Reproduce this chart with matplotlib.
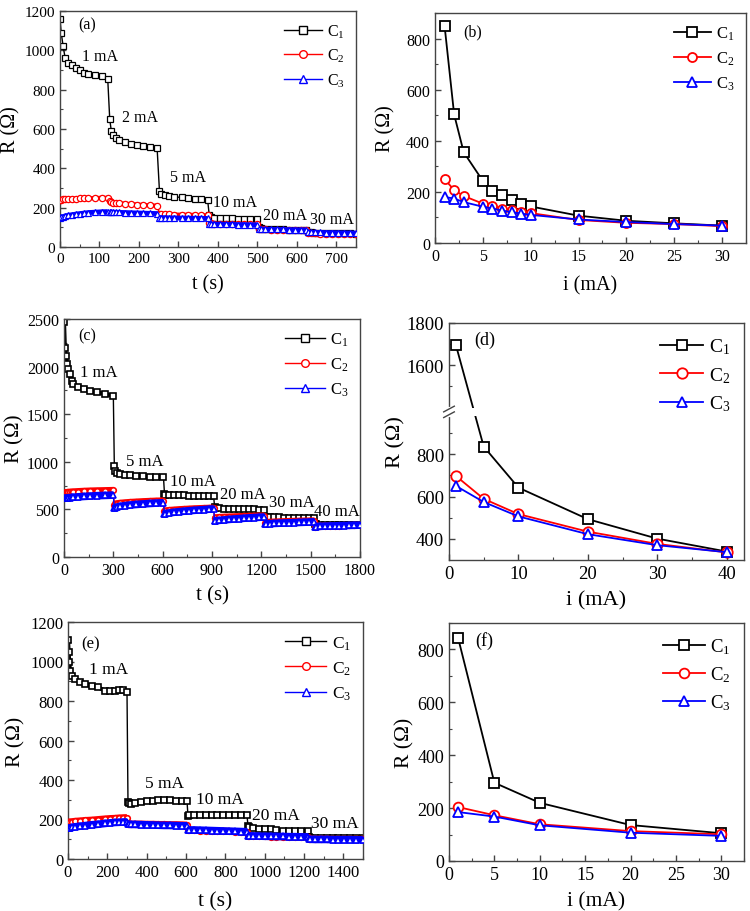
import numpy as np
import matplotlib
matplotlib.use("Agg")
import matplotlib.pyplot as plt
from matplotlib.lines import Line2D
from matplotlib.ticker import MultipleLocator, FixedLocator, FormatStrFormatter, NullFormatter

plt.rcParams['font.family'] = ['Liberation Serif', 'DejaVu Serif']
plt.rcParams['mathtext.fontset'] = 'custom'
plt.rcParams['mathtext.rm'] = 'Liberation Serif'
plt.rcParams['mathtext.it'] = 'Liberation Serif:italic'

# ---------------- data ----------------
# (a) resistance vs time, currents 1,2,5,10,20,30 mA
a_switch = [0, 124, 250, 376, 502, 627]
t_a = [0, 3, 8, 13, 20, 30, 40, 51, 60, 72, 89, 106, 121,
       126, 130, 135, 142, 150, 165, 180, 195, 211, 228, 246,
       252, 257, 265, 275, 290, 308, 325, 342, 358, 374,
       378, 383, 390, 405, 420, 435, 450, 465, 482, 499,
       504, 510, 520, 535, 550, 565, 580, 595, 610, 624,
       629, 635, 645, 660, 675, 690, 705, 720, 735, 749]
a_c1 = [1160, 1090, 1020, 962, 938, 924, 908, 900, 886, 878, 873, 868, 852,
        650, 590, 570, 556, 545, 532, 526, 520, 515, 510, 505,
        285, 268, 262, 258, 255, 252, 248, 245, 243, 240,
        165, 152, 148, 146, 145, 145, 144, 143, 143, 142,
        100, 95, 93, 91, 90, 89, 88, 87, 87, 86,
        76, 74, 73, 72, 71, 70, 70, 69, 69, 68]
a_c2 = [240, 241, 242, 243, 244, 245, 246, 247, 247, 248, 249, 250, 250,
        235, 229, 226, 224, 222, 220, 218, 216, 214, 212, 210,
        170, 168, 167, 166, 165, 164, 164, 163, 162, 161,
        122, 120, 119, 118, 118, 117, 117, 116, 116, 115,
        92, 90, 89, 88, 88, 87, 87, 86, 86, 85,
        72, 70, 69, 68, 68, 67, 67, 66, 66, 65]
a_c3 = [150, 152, 155, 158, 161, 164, 167, 170, 172, 175, 177, 179, 180,
        178, 177, 177, 176, 176, 175, 174, 173, 172, 171, 170,
        150, 149, 149, 148, 148, 147, 147, 146, 146, 145,
        118, 117, 116, 116, 115, 115, 114, 114, 113, 113,
        93, 91, 90, 90, 89, 89, 88, 88, 87, 87,
        76, 75, 74, 74, 73, 73, 72, 72, 71, 71]
a_labels = ['1 mA', '2 mA', '5 mA', '10 mA', '20 mA', '30 mA']
a_label_t = [101, 203, 325, 443, 570, 689]
a_label_r = [971, 661, 356, 229, 163, 142]

# (b) resistance vs current
i_b = [1, 2, 3, 5, 6, 7, 8, 9, 10, 15, 20, 25, 30]
b_c1 = [850, 503, 355, 243, 205, 187, 169, 153, 143, 107, 87, 77, 68]
b_c2 = [250, 207, 184, 154, 145, 134, 128, 122, 117, 90, 79, 74, 66]
b_c3 = [180, 174, 160, 142, 135, 127, 121, 115, 110, 92, 82, 74, 68]

# (c) resistance vs time, currents 1,5,10,20,30,40 mA
c_switch = [0, 304, 609, 914, 1220, 1525]
t_c = [0, 5, 10, 20, 25, 36, 47, 57, 87, 120, 160, 200, 250, 300,
       306, 310, 320, 340, 370, 400, 440, 480, 520, 560, 605,
       611, 615, 640, 670, 700, 730, 760, 790, 820, 850, 880, 910,
       916, 920, 945, 975, 1005, 1035, 1065, 1095, 1125, 1155, 1185, 1218,
       1223, 1228, 1250, 1280, 1310, 1340, 1370, 1400, 1430, 1460, 1490, 1523,
       1528, 1533, 1555, 1585, 1615, 1645, 1675, 1705, 1735, 1765, 1799]
c_c1 = [2470, 2200, 2114, 2026, 1974, 1921, 1852, 1817, 1788, 1765, 1745, 1730, 1712, 1694,
        959, 906, 885, 870, 862, 857, 852, 848, 845, 842, 838,
        665, 655, 652, 650, 648, 647, 646, 645, 644, 643, 642, 640,
        520, 512, 510, 508, 506, 505, 503, 502, 501, 500, 498, 497,
        425, 420, 418, 416, 415, 413, 412, 411, 410, 409, 408, 406,
        345, 342, 341, 340, 340, 339, 339, 338, 338, 337, 337]
c_c2 = [675, 676, 677, 679, 680, 682, 684, 685, 688, 691, 694, 696, 698, 700,
        550, 555, 560, 565, 570, 574, 578, 582, 585, 588, 590,
        480, 485, 490, 494, 498, 501, 504, 507, 509, 511, 513, 515,
        410, 413, 416, 419, 421, 423, 425, 427, 428, 430, 431, 432,
        360, 363, 366, 368, 370, 372, 374, 375, 377, 378, 379, 380,
        320, 322, 324, 326, 327, 329, 330, 331, 332, 333, 335]
c_c3 = [615, 617, 619, 621, 622, 624, 626, 628, 632, 636, 640, 644, 647, 650,
        510, 517, 524, 532, 540, 546, 552, 557, 562, 566, 570,
        450, 456, 463, 470, 476, 481, 486, 490, 494, 498, 502, 505,
        375, 380, 385, 390, 395, 399, 403, 407, 411, 414, 417, 420,
        345, 347, 350, 353, 355, 357, 359, 361, 363, 365, 367, 370,
        318, 320, 322, 324, 326, 327, 329, 330, 332, 333, 335]
c_labels = ['1 mA', '5 mA', '10 mA', '20 mA', '30 mA', '40 mA']
c_label_t = [213, 493, 785, 1089, 1388, 1660]
c_label_r = [1943, 1008, 798, 662, 578, 483]

# (d) resistance vs current (broken axis)
i_d = [1, 5, 10, 20, 30, 40]
d_c1 = [1695, 836, 642, 493, 401, 340]
d_c2 = [697, 589, 517, 434, 376, 336]
d_c3 = [650, 574, 506, 422, 370, 337]

# (e) resistance vs time, currents 1,5,10,20,30 mA
e_switch = [0, 303, 608, 913, 1223]
t_e = [0, 3, 6, 10, 19, 36, 61, 86, 120, 154, 188, 215, 239, 260, 282, 300,
       305, 310, 320, 340, 370, 400, 430, 460, 490, 520, 550, 580, 605,
       610, 615, 640, 670, 700, 730, 760, 790, 820, 850, 880, 910,
       915, 920, 940, 970, 1000, 1030, 1060, 1095, 1125, 1155, 1185, 1220,
       1225, 1230, 1255, 1285, 1315, 1345, 1375, 1405, 1435, 1465, 1499]
e_c1 = [1110, 1050, 996, 953, 928, 911, 898, 886, 877, 869, 852, 852, 852, 855, 857, 847,
        290, 284, 280, 285, 290, 294, 296, 297, 297, 297, 296, 296, 295,
        219, 221, 222, 223, 224, 225, 225, 225, 224, 224, 223, 223,
        169, 160, 155, 153, 152, 150, 148, 143, 143, 142, 141, 140,
        110, 108, 107, 107, 106, 106, 106, 105, 105, 105, 105]
e_c2 = [185, 186, 187, 188, 189, 191, 193, 195, 197, 200, 203, 205, 206, 208, 209, 210,
        178, 178, 177, 177, 177, 176, 176, 175, 175, 174, 174, 173, 172,
        146, 145, 145, 144, 143, 142, 141, 141, 140, 139, 139, 138,
        116, 115, 115, 114, 114, 113, 113, 112, 112, 111, 111, 110,
        102, 102, 101, 101, 101, 100, 100, 100, 100, 100, 100]
e_c3 = [155, 156, 157, 158, 160, 163, 166, 169, 173, 176, 180, 183, 185, 186, 187, 188,
        176, 176, 175, 175, 174, 173, 172, 171, 170, 170, 169, 168, 168,
        148, 147, 147, 146, 145, 144, 143, 142, 141, 140, 139, 138,
        118, 117, 117, 116, 115, 115, 114, 114, 113, 113, 112, 112,
        100, 100, 99, 99, 99, 98, 98, 98, 98, 97, 97]
e_labels = ['1 mA', '5 mA', '10 mA', '20 mA', '30 mA']
e_label_t = [208, 493, 773, 1057, 1357]
e_label_r = [962, 385, 304, 223, 182]

# (f) resistance vs current
i_f = [1, 5, 10, 20, 30]
f_c1 = [844, 296, 220, 136, 105]
f_c2 = [204, 173, 139, 113, 101]
f_c3 = [185, 168, 135, 107, 95]

names = ['C$_1$', 'C$_2$', 'C$_3$']
colors = ['black', 'red', 'blue']
markers = ['s', 'o', '^']
spine_col = '#444444'

# ---------------- figure ----------------
fig = plt.figure(figsize=(7.5, 9.12), dpi=100)
W, H = 750, 912


def add_ax(x0, y0, x1, y1):
    return fig.add_axes([x0 / W, 1 - y1 / H, (x1 - x0) / W, (y1 - y0) / H])


def style(ax, tick_fs):
    for sp in ax.spines.values():
        sp.set_color(spine_col)
        sp.set_linewidth(1.0)
    ax.tick_params(which='both', direction='in', top=False, right=False,
                   labelsize=tick_fs, color=spine_col)
    ax.tick_params(which='major', length=4, width=1)
    ax.tick_params(which='minor', length=2.2, width=0.8)


def series_time(ax, t, ys, switch, bands, ms=4.0, mew=0.9):
    t = np.asarray(t)
    seg = np.searchsorted(switch, t, side='right') - 1
    for k, (y, c, m) in enumerate(zip(ys, colors, markers)):
        y = np.asarray(y)
        ax.plot(t, y, color=c, lw=1.0, zorder=2 + k)
        if bands[k] > 0:
            for s in np.unique(seg):
                sel = seg == s
                ax.plot(t[sel], y[sel], color=c, lw=bands[k],
                        solid_capstyle='butt', zorder=2 + k)
        ax.plot(t, y, ls='none', marker=m, ms=ms, mfc='white', mec=c,
                mew=mew, zorder=2 + k)


def series_current(ax, x, ys, ms=6.5):
    for y, c, m, n in zip(ys, colors, markers, names):
        ax.plot(x, y, color=c, lw=1.3, marker=m, ms=ms, mfc='white',
                mec=c, mew=1.3, label=n)


def legend(ax, fs):
    ax.legend(loc='upper right', frameon=False, fontsize=fs, handlelength=2.2,
              handletextpad=0.3, labelspacing=0.45, borderaxespad=0.3)


def time_legend(ax, fs):
    hs = [Line2D([], [], color=c, lw=1.0, marker=m, ms=5.5, mfc='white', mec=c, mew=1.0)
          for c, m in zip(colors, markers)]
    ax.legend(hs, names, loc='upper right', frameon=False, fontsize=fs,
              handlelength=2.4, handletextpad=0.3, labelspacing=0.45, borderaxespad=0.3)


# (a)
ax = add_ax(60, 12, 356, 248)
series_time(ax, t_a, [a_c1, a_c2, a_c3], a_switch, [0, 3.0, 3.5], ms=4.5)
ax.set_xlim(0, 750)
ax.set_ylim(0, 1200)
ax.xaxis.set_major_locator(MultipleLocator(100))
ax.xaxis.set_minor_locator(MultipleLocator(50))
ax.yaxis.set_major_locator(MultipleLocator(200))
ax.yaxis.set_minor_locator(MultipleLocator(100))
style(ax, 11)
for s, x, y in zip(a_labels, a_label_t, a_label_r):
    ax.text(x, y, s, ha='center', va='center', fontsize=11.5, zorder=10)
ax.text(0.09, 0.945, '(a)', transform=ax.transAxes, ha='center', va='center', fontsize=11.5)
ax.set_xlabel('t (s)', fontsize=14.5, labelpad=7)
ax.set_ylabel('R (Ω)', fontsize=14.5, labelpad=3)
time_legend(ax, 11.5)

# (b)
ax = add_ax(435, 14, 746, 244)
series_current(ax, i_b, [b_c1, b_c2, b_c3])
ax.set_xlim(0, 32.5)
ax.set_ylim(0, 900)
ax.xaxis.set_major_locator(MultipleLocator(5))
ax.xaxis.set_minor_locator(MultipleLocator(2.5))
ax.yaxis.set_major_locator(MultipleLocator(200))
ax.yaxis.set_minor_locator(MultipleLocator(100))
style(ax, 11.5)
ax.text(0.12, 0.92, '(b)', transform=ax.transAxes, ha='center', va='center', fontsize=11.5)
ax.set_xlabel('i (mA)', fontsize=14.5, labelpad=8)
ax.set_ylabel('R (Ω)', fontsize=14.5, labelpad=8)
legend(ax, 12)

# (c)
ax = add_ax(64, 320, 360, 558)
series_time(ax, t_c, [c_c1, c_c2, c_c3], c_switch, [3.0, 5.0, 5.5], mew=1.2)
ax.set_xlim(0, 1800)
ax.set_ylim(0, 2500)
ax.xaxis.set_major_locator(MultipleLocator(300))
ax.xaxis.set_minor_locator(MultipleLocator(150))
ax.yaxis.set_major_locator(MultipleLocator(500))
ax.yaxis.set_minor_locator(MultipleLocator(250))
style(ax, 11.5)
for s, x, y in zip(c_labels, c_label_t, c_label_r):
    ax.text(x, y, s, ha='center', va='center', fontsize=12, zorder=10)
ax.text(0.08, 0.93, '(c)', transform=ax.transAxes, ha='center', va='center', fontsize=11.5)
ax.set_xlabel('t (s)', fontsize=15, labelpad=5)
ax.set_ylabel('R (Ω)', fontsize=15, labelpad=2)
time_legend(ax, 12)

# (d) broken y axis: 1000..1380 removed
gap_lo, gap_hi = 1000.0, 1380.0


def fwd(y):
    y = np.asarray(y, dtype=float)
    return np.where(y <= gap_lo, y, np.where(y >= gap_hi, y - (gap_hi - gap_lo),
                                             gap_lo + (y - gap_lo) * 1e-6))


def inv(y):
    y = np.asarray(y, dtype=float)
    return np.where(y <= gap_lo, y, y + (gap_hi - gap_lo))


ax = add_ax(449, 324, 744, 561)
ax.set_yscale('function', functions=(fwd, inv))
series_current(ax, i_d, [d_c1, d_c2, d_c3], ms=7.5)
ax.set_xlim(0, 42.5)
ax.set_ylim(300, 1800)
ax.xaxis.set_major_locator(MultipleLocator(10))
ax.xaxis.set_minor_locator(MultipleLocator(5))
ax.yaxis.set_major_locator(FixedLocator([400, 600, 800, 1600, 1800]))
ax.yaxis.set_minor_locator(FixedLocator([500, 700, 900, 1500, 1700]))
ax.yaxis.set_major_formatter(FormatStrFormatter('%d'))
ax.yaxis.set_minor_formatter(NullFormatter())
style(ax, 13.5)
yb = (gap_lo - 300) / (1800 - 300 - (gap_hi - gap_lo))
# gap in the data line at the break
ax.fill_between([0.004, 0.996], yb - 0.018, yb + 0.018, transform=ax.transAxes,
                color='white', lw=0, zorder=4)
ax.plot([0, 0], [yb - 0.012, yb + 0.012], transform=ax.transAxes, color='white',
        lw=3, clip_on=False, zorder=5)
for dy in (-0.012, 0.012):
    ax.plot([-0.018, 0.018], [yb + dy - 0.012, yb + dy + 0.012], transform=ax.transAxes,
            color=spine_col, lw=1.0, clip_on=False, zorder=6)
ax.text(0.12, 0.93, '(d)', transform=ax.transAxes, ha='center', va='center', fontsize=13)
ax.set_xlabel('i (mA)', fontsize=16, labelpad=6)
ax.set_ylabel('R (Ω)', fontsize=16, labelpad=1)
legend(ax, 14)

# (e)
ax = add_ax(68, 623, 363, 860)
series_time(ax, t_e, [e_c1, e_c2, e_c3], e_switch, [3.0, 5.0, 5.5], mew=1.2)
ax.set_xlim(0, 1500)
ax.set_ylim(0, 1200)
ax.xaxis.set_major_locator(MultipleLocator(200))
ax.xaxis.set_minor_locator(MultipleLocator(100))
ax.yaxis.set_major_locator(MultipleLocator(200))
ax.yaxis.set_minor_locator(MultipleLocator(100))
style(ax, 12)
for s, x, y in zip(e_labels, e_label_t, e_label_r):
    ax.text(x, y, s, ha='center', va='center', fontsize=12.5, zorder=10)
ax.text(0.075, 0.91, '(e)', transform=ax.transAxes, ha='center', va='center', fontsize=12)
ax.set_xlabel('t (s)', fontsize=15.5, labelpad=8)
ax.set_ylabel('R (Ω)', fontsize=15.5, labelpad=3)
time_legend(ax, 12.5)

# (f)
ax = add_ax(449, 624, 744, 862)
series_current(ax, i_f, [f_c1, f_c2, f_c3], ms=7)
ax.set_xlim(0, 32.5)
ax.set_ylim(0, 900)
ax.xaxis.set_major_locator(MultipleLocator(5))
ax.xaxis.set_minor_locator(MultipleLocator(2.5))
ax.yaxis.set_major_locator(MultipleLocator(200))
ax.yaxis.set_minor_locator(MultipleLocator(100))
style(ax, 13)
ax.text(0.12, 0.93, '(f)', transform=ax.transAxes, ha='center', va='center', fontsize=13)
ax.set_xlabel('i (mA)', fontsize=15.5, labelpad=6)
ax.set_ylabel('R (Ω)', fontsize=15.5, labelpad=2)
legend(ax, 13.5)

fig.savefig('out.png', dpi=100)
